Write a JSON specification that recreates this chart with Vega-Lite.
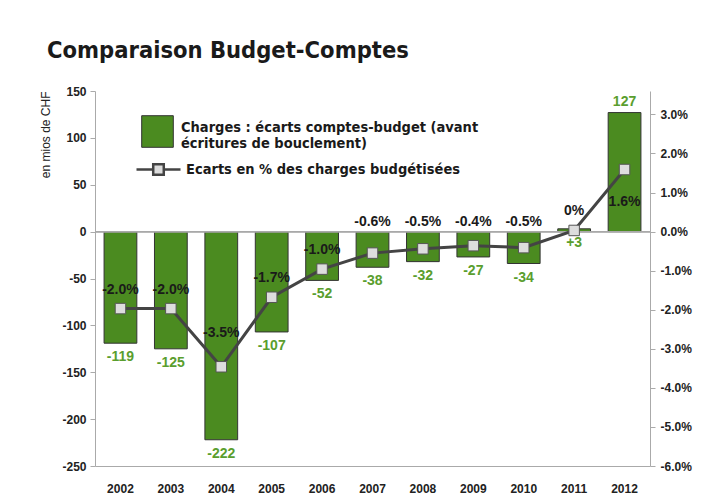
{
  "$schema": "https://vega.github.io/schema/vega-lite/v6.json",
  "width": 555,
  "height": 375,
  "autosize": {"type": "none"},
  "padding": {"left": 95, "top": 91, "right": 64, "bottom": 32},
  "background": "white",
  "title": {
    "text": "Comparaison Budget-Comptes",
    "anchor": "start",
    "frame": "group",
    "dx": -48,
    "offset": 23,
    "fontSize": 23.5,
    "font": "DejaVu Sans Condensed, sans-serif",
    "fontWeight": "bold",
    "color": "#1a1a1a"
  },
  "data": {
    "values": [
      {"year": "2002", "ecart": -119, "pct": -1.97, "lab": "-119", "plab": "-2.0%"},
      {"year": "2003", "ecart": -125, "pct": -1.97, "lab": "-125", "plab": "-2.0%"},
      {"year": "2004", "ecart": -222, "pct": -3.46, "lab": "-222", "plab": "-3.5%"},
      {"year": "2005", "ecart": -107, "pct": -1.68, "lab": "-107", "plab": "-1.7%"},
      {"year": "2006", "ecart": -52, "pct": -0.96, "lab": "-52", "plab": "-1.0%"},
      {"year": "2007", "ecart": -38, "pct": -0.55, "lab": "-38", "plab": "-0.6%"},
      {"year": "2008", "ecart": -32, "pct": -0.44, "lab": "-32", "plab": "-0.5%"},
      {"year": "2009", "ecart": -27, "pct": -0.36, "lab": "-27", "plab": "-0.4%"},
      {"year": "2010", "ecart": -34, "pct": -0.41, "lab": "-34", "plab": "-0.5%"},
      {"year": "2011", "ecart": 3, "pct": 0.03, "lab": "+3", "plab": "0%"},
      {"year": "2012", "ecart": 127, "pct": 1.59, "lab": "127", "plab": "1.6%"}
    ]
  },
  "encoding": {
    "x": {
      "field": "year",
      "type": "nominal",
      "sort": null,
      "scale": {"paddingInner": 0.35, "paddingOuter": 0.18},
      "axis": {
        "title": null,
        "labelAngle": 0,
        "ticks": false,
        "domainColor": "#aaaaaa",
        "labelPadding": 17,
        "labelFont": "Liberation Sans",
        "labelFontWeight": "bold",
        "labelFontSize": 12,
        "labelColor": "#222222"
      }
    }
  },
  "layer": [
    {
      "encoding": {
        "y": {
          "field": "ecart",
          "type": "quantitative",
          "scale": {"domain": [-250, 150], "nice": false, "zero": false},
          "axis": {
            "orient": "left",
            "values": [-250, -200, -150, -100, -50, 0, 50, 100, 150],
            "labelExpr": "datum.value < 0 ? '-' + abs(datum.value) : '' + datum.value",
            "grid": false,
            "domainColor": "#aaaaaa",
            "tickColor": "#aaaaaa",
            "tickSize": 5,
            "labelPadding": 4,
            "labelFont": "Liberation Sans",
            "labelFontWeight": "bold",
            "labelFontSize": 12,
            "labelColor": "#222222",
            "title": "en mios de CHF",
            "titleAnchor": "end",
            "titleFont": "Liberation Sans",
            "titleFontWeight": "normal",
            "titleFontSize": 12,
            "titleColor": "#222222",
            "titlePadding": 9
          }
        }
      },
      "layer": [
        {
          "mark": {"type": "bar", "stroke": "#333333", "strokeWidth": 1},
          "encoding": {
            "color": {
              "datum": "Charges : écarts comptes-budget (avant|écritures de bouclement)",
              "scale": {"range": ["#4b8b20"]},
              "legend": {
                "title": null,
                "orient": "none",
                "legendX": 46,
                "legendY": 24,
                "symbolType": "square",
                "symbolSize": 1000,
                "symbolStrokeColor": "#333333",
                "symbolStrokeWidth": 1,
                "labelExpr": "split(datum.label, '|')",
                "labelFont": "DejaVu Sans Condensed, sans-serif",
                "labelFontWeight": "bold",
                "labelFontSize": 14.5,
                "labelLineHeight": 18,
                "labelBaseline": "alphabetic",
                "labelColor": "#1a1a1a",
                "labelOffset": 7,
                "labelLimit": 400
              }
            }
          }
        },
        {
          "mark": {"type": "rule", "color": "#aaaaaa", "strokeWidth": 1},
          "encoding": {"y": {"datum": 0}, "x": null}
        },
        {
          "transform": [{"filter": "datum.ecart < 100"}],
          "mark": {"type": "text", "dy": 14, "font": "Liberation Sans", "fontWeight": "bold", "fontSize": 14, "color": "#5a9e2e", "baseline": "middle"},
          "encoding": {"text": {"field": "lab"}}
        },
        {
          "transform": [{"filter": "datum.ecart >= 100"}],
          "mark": {"type": "text", "dy": -11, "font": "Liberation Sans", "fontWeight": "bold", "fontSize": 14, "color": "#5a9e2e", "baseline": "middle"},
          "encoding": {"text": {"field": "lab"}}
        }
      ]
    },
    {
      "encoding": {
        "y": {
          "field": "pct",
          "type": "quantitative",
          "scale": {"domain": [-6, 3.6], "nice": false, "zero": false},
          "axis": {
            "orient": "right",
            "values": [-6, -5, -4, -3, -2, -1, 0, 1, 2, 3],
            "labelExpr": "(datum.value < 0 ? '-' : '') + format(abs(datum.value), '.1f') + '%'",
            "grid": false,
            "domainColor": "#aaaaaa",
            "tickColor": "#aaaaaa",
            "tickSize": 5,
            "labelPadding": 5,
            "labelFont": "Liberation Sans",
            "labelFontWeight": "bold",
            "labelFontSize": 12,
            "labelColor": "#222222",
            "title": null
          }
        }
      },
      "layer": [
        {
          "mark": {"type": "line", "strokeWidth": 3},
          "encoding": {
            "stroke": {
              "datum": "Ecarts en % des charges budgétisées",
              "scale": {"range": ["#444444"]},
              "legend": {
                "title": null,
                "orient": "none",
                "legendX": 40,
                "legendY": 55,
                "symbolType": "M-1,0H-0.24M0.24,0H1M-0.24,-0.24H0.24V0.24H-0.24Z",
                "symbolSize": 1936,
                "symbolFillColor": "#dddddd",
                "symbolStrokeColor": "#444444",
                "symbolStrokeWidth": 2.5,
                "labelFont": "DejaVu Sans Condensed, sans-serif",
                "labelFontWeight": "bold",
                "labelFontSize": 14.5,
                "labelColor": "#1a1a1a",
                "labelOffset": 4,
                "labelLimit": 400
              }
            }
          }
        },
        {
          "mark": {"type": "point", "shape": "square", "size": 110, "filled": true, "fill": "#dddddd", "stroke": "#555555", "strokeWidth": 1, "opacity": 1}
        },
        {
          "transform": [{"filter": "indexof(['2002','2003','2005','2006','2011'], datum.year) >= 0"}],
          "mark": {"type": "text", "dy": -19, "font": "Liberation Sans", "fontWeight": "bold", "fontSize": 14, "color": "#1a1a1a", "baseline": "middle"},
          "encoding": {"text": {"field": "plab"}}
        },
        {
          "transform": [{"filter": "datum.year == '2004'"}],
          "mark": {"type": "text", "dy": -34, "font": "Liberation Sans", "fontWeight": "bold", "fontSize": 14, "color": "#1a1a1a", "baseline": "middle"},
          "encoding": {"text": {"field": "plab"}}
        },
        {
          "transform": [{"filter": "datum.year == '2012'"}],
          "mark": {"type": "text", "dy": 32, "font": "Liberation Sans", "fontWeight": "bold", "fontSize": 14, "color": "#1a1a1a", "baseline": "middle"},
          "encoding": {"text": {"field": "plab"}}
        },
        {
          "transform": [{"filter": "indexof(['2007','2008','2009','2010'], datum.year) >= 0"}],
          "mark": {"type": "text", "dy": -10, "font": "Liberation Sans", "fontWeight": "bold", "fontSize": 14, "color": "#1a1a1a", "baseline": "middle"},
          "encoding": {"text": {"field": "plab"}, "y": {"datum": 0}}
        }
      ]
    }
  ],
  "resolve": {"scale": {"y": "independent"}},
  "config": {"view": {"stroke": null}}
}
